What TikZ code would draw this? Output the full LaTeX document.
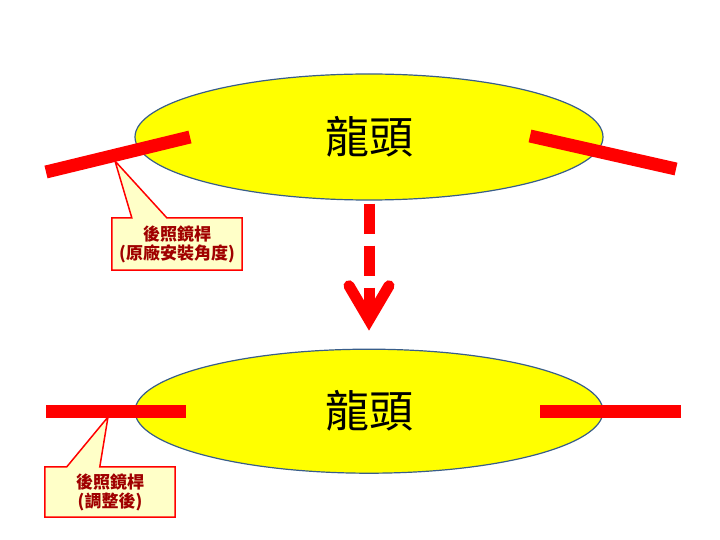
\documentclass[tikz,border=0pt]{standalone}
\usepackage{fontspec}
\newfontfamily\cjk{Noto Sans CJK TC}
\usetikzlibrary{shapes.geometric,arrows.meta,calc,positioning,backgrounds}

\definecolor{headfill}{RGB}{255,255,0}
\definecolor{headline}{RGB}{56,93,138}
\definecolor{notefill}{RGB}{255,255,200}
\definecolor{notetext}{RGB}{160,0,0}
\definecolor{rodred}{RGB}{255,0,0}

\begin{document}
\begin{tikzpicture}[x=1pt,y=-1pt,
  head/.style={ellipse,draw=headline,fill=headfill,line width=1.2pt,minimum width=468pt,
    minimum height=126pt,inner sep=0pt,font=\cjk\fontsize{44}{50}\selectfont},
  rod/.style={draw=rodred,line width=13pt},
  note/.style={minimum width=130pt,minimum height=52pt,inner sep=0pt,align=center,
    text=notetext,font=\cjk\bfseries\fontsize{17}{19}\selectfont},
  noteline/.style={draw=red,line width=1.5pt,fill=notefill,line join=miter}]

  \useasboundingbox (0,0) rectangle (720,540);

        \node[head] (H1) at (369,137) {龍頭};
        \node[head,minimum height=124pt] (H2) [below = 148pt of H1] {龍頭};

        \draw[rod] (46,172) -- (190,137);
        \draw[rod] (530,136) -- (676,169);
        \draw[rod] (46,411) -- (186,411);
        \draw[rod] (540,411) -- (681,411);

        \draw[rodred,line width=11pt,dash pattern=on 30pt off 12pt,
          -{Straight Barb[length=34pt,width=40pt,line cap=round]},
          shorten <=3pt,shorten >=18pt] (H1.south) -- (H2.north);

        \coordinate (T1) at (115,161);
        \coordinate (T2) at (108,417);

        \node[note] (N1) at (177,244) {後照鏡桿\\(原廠安裝角度)};
        \node[note,minimum height=50pt] (N2) at (110,492) {後照鏡桿\\(調整後)};

        \begin{scope}[on background layer]
        \draw[noteline] (N1.north west) -- ++(20,0) -- (T1) -- ($(N1.north west)+(55,0)$)
          -- (N1.north east) -- (N1.south east) -- (N1.south west) -- cycle;
        \draw[noteline] (N2.north west) -- ++(22,0) -- (T2) -- ($(N2.north west)+(55,0)$)
          -- (N2.north east) -- (N2.south east) -- (N2.south west) -- cycle;
        \end{scope}
      \end{tikzpicture}
\end{document}
